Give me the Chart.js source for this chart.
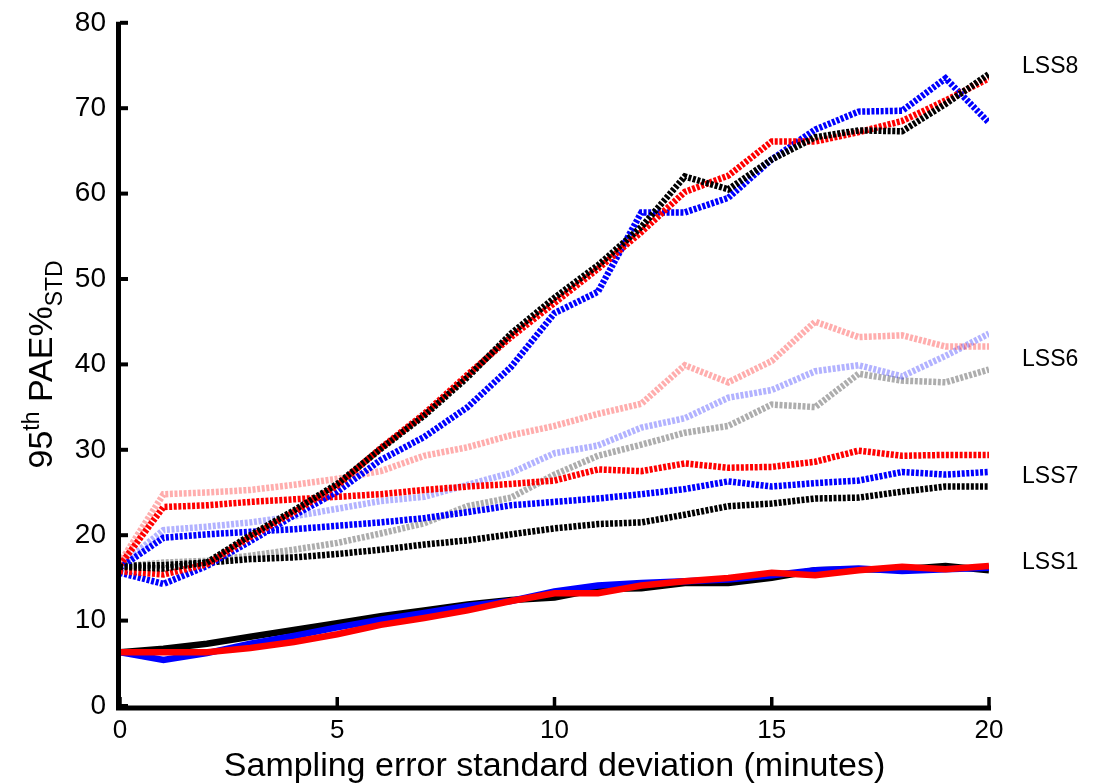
<!DOCTYPE html>
<html>
<head>
<meta charset="utf-8">
<script src="https://cdn.jsdelivr.net/npm/chart.js@4"></script>
<style>
  html, body { margin: 0; padding: 0; background: #fff; }
  canvas { display: block; }
</style>
</head>
<body>
<canvas id="paeChart" width="1093" height="784"></canvas>
<script>
const sdMinutes = [0, 1, 2, 3, 4, 5, 6, 7, 8, 9, 10, 11, 12, 13, 14, 15, 16, 17, 18, 19, 20];

// LSS1, solid lines
const lss1Black = [6.3, 6.7, 7.3, 8.1, 8.9, 9.7, 10.5, 11.2, 11.9, 12.4, 12.7, 13.7, 13.8, 14.4, 14.4, 15.0, 15.9, 16.0, 16.0, 16.4, 15.9];
const lss1Blue = [6.3, 5.4, 6.2, 7.3, 8.2, 9.2, 10.1, 10.9, 11.7, 12.3, 13.4, 14.1, 14.4, 14.6, 14.8, 15.3, 15.9, 16.1, 15.8, 16.0, 16.2];
const lss1Red = [6.3, 6.3, 6.3, 6.8, 7.5, 8.4, 9.5, 10.3, 11.2, 12.3, 13.2, 13.2, 14.1, 14.6, 15.0, 15.6, 15.3, 15.9, 16.3, 16.0, 16.4];

// LSS7, dark dotted
const lss7Black = [16.4, 16.5, 16.8, 17.2, 17.4, 17.8, 18.3, 18.9, 19.4, 20.1, 20.8, 21.3, 21.5, 22.4, 23.4, 23.7, 24.3, 24.4, 25.1, 25.7, 25.7];
const lss7Blue = [16.2, 19.7, 20.1, 20.4, 20.7, 21.1, 21.5, 22.0, 22.7, 23.5, 23.9, 24.3, 24.8, 25.4, 26.3, 25.7, 26.1, 26.4, 27.4, 27.1, 27.4];
const lss7Red = [16.5, 23.3, 23.5, 23.9, 24.2, 24.5, 24.8, 25.3, 25.7, 26.0, 26.4, 27.7, 27.5, 28.4, 27.9, 28.0, 28.6, 29.9, 29.3, 29.4, 29.4];

// LSS6, pale dotted
const lss6Black = [16.3, 16.8, 17.0, 17.6, 18.3, 19.1, 20.2, 21.4, 23.4, 24.4, 27.1, 29.3, 30.6, 32.0, 32.8, 35.3, 35.0, 38.9, 38.1, 37.9, 39.4];
const lss6Blue = [16.4, 20.6, 21.0, 21.5, 22.2, 23.1, 24.0, 24.5, 25.9, 27.3, 29.6, 30.5, 32.6, 33.7, 36.1, 37.0, 39.2, 39.9, 38.6, 41.0, 43.6];
const lss6Red = [16.8, 24.8, 25.0, 25.3, 25.9, 26.6, 27.5, 29.3, 30.3, 31.7, 32.8, 34.2, 35.4, 39.9, 37.9, 40.4, 45.0, 43.2, 43.4, 42.1, 42.1];

// LSS8, dark dotted
const lss8Black = [16.3, 16.1, 16.8, 20.0, 22.9, 26.0, 30.1, 34.0, 38.5, 43.6, 47.8, 51.6, 56.1, 62.0, 60.5, 64.0, 66.6, 67.4, 67.3, 70.5, 74.0];
const lss8Blue = [15.6, 14.3, 16.4, 19.3, 22.3, 25.1, 28.8, 31.5, 35.0, 39.7, 46.0, 48.5, 57.8, 57.8, 59.5, 64.0, 67.5, 69.6, 69.7, 73.5, 68.3];
const lss8Red = [15.8, 15.4, 16.6, 19.8, 22.7, 25.8, 30.2, 34.2, 38.8, 43.2, 47.2, 51.2, 55.5, 60.2, 62.1, 66.1, 66.1, 67.2, 68.5, 70.9, 73.5];

const groupNames = ["LSS8", "LSS6", "LSS7", "LSS1"];
const groupLabelY = [74.9, 40.5, 26.8, 16.8];

const xTicks = [0, 5, 10, 15, 20];
const yTicks = [0, 10, 20, 30, 40, 50, 60, 70, 80];

const FONT = "'Liberation Sans', Arial, sans-serif";

function series(label, values, color, dashed, order) {
  return {
    label: label,
    data: values.map((v, i) => ({ x: sdMinutes[i], y: v })),
    borderColor: color,
    borderWidth: dashed ? 6.5 : 6.5,
    borderDash: dashed ? [3, 1.6] : [],
    borderCapStyle: "butt",
    pointRadius: 0,
    tension: 0,
    fill: false,
    order: order
  };
}

// axes, inward ticks, y title with super/subscript and right-side labels
const decorations = {
  id: "decorations",
  afterDatasetsDraw(chart) {
    const ctx = chart.ctx;
    const area = chart.chartArea;
    const xs = chart.scales.x;
    const ys = chart.scales.y;
    ctx.save();
    ctx.strokeStyle = "#000";
    ctx.lineWidth = 5;
    ctx.lineCap = "butt";
    ctx.beginPath();
    ctx.moveTo(area.left - 1.5, area.top - 1);
    ctx.lineTo(area.left - 1.5, area.bottom + 2);
    ctx.lineTo(area.right + 2, area.bottom + 2);
    ctx.stroke();

    ctx.lineWidth = 4;
    yTicks.forEach(v => {
      const y = ys.getPixelForValue(v);
      ctx.beginPath();
      ctx.moveTo(area.left, y);
      ctx.lineTo(area.left + 8, y);
      ctx.stroke();
    });
    ctx.lineWidth = 3.5;
    xTicks.forEach(v => {
      const x = xs.getPixelForValue(v);
      ctx.beginPath();
      ctx.moveTo(x, area.bottom);
      ctx.lineTo(x, area.bottom - 9);
      ctx.stroke();
    });

    ctx.fillStyle = "#000";
    ctx.textBaseline = "middle";
    ctx.textAlign = "left";
    ctx.font = "23px " + FONT;
    groupNames.forEach((name, i) => {
      ctx.fillText(name, area.right + 33, ys.getPixelForValue(groupLabelY[i]));
    });

    ctx.textAlign = "center";
    ctx.textBaseline = "alphabetic";
    ctx.font = "34px " + FONT;
    ctx.fillText("Sampling error standard deviation (minutes)", (area.left + area.right) / 2, 776);

    // 95th PAE%STD, rotated
    const parts = [
      { t: "95", size: 34, dy: 0 },
      { t: "th", size: 23, dy: -13 },
      { t: " PAE%", size: 34, dy: 0 },
      { t: "STD", size: 23, dy: 10 }
    ];
    let total = 0;
    parts.forEach(p => {
      ctx.font = p.size + "px " + FONT;
      p.w = ctx.measureText(p.t).width;
      total += p.w;
    });
    ctx.translate(52, (area.top + area.bottom) / 2);
    ctx.rotate(-Math.PI / 2);
    ctx.textAlign = "left";
    let cx = -total / 2;
    parts.forEach(p => {
      ctx.font = p.size + "px " + FONT;
      ctx.fillText(p.t, cx, p.dy);
      cx += p.w;
    });
    ctx.restore();
  }
};

new Chart(document.getElementById("paeChart"), {
  type: "line",
  data: {
    datasets: [
      series("LSS6 black", lss6Black, "rgba(0,0,0,0.32)", true, 12),
      series("LSS6 blue", lss6Blue, "rgba(0,0,255,0.3)", true, 11),
      series("LSS6 red", lss6Red, "rgba(255,0,0,0.32)", true, 10),
      series("LSS7 black", lss7Black, "#000000", true, 9),
      series("LSS7 blue", lss7Blue, "#0000ff", true, 8),
      series("LSS7 red", lss7Red, "#ff0000", true, 7),
      series("LSS8 blue", lss8Blue, "#0000ff", true, 6),
      series("LSS8 red", lss8Red, "#ff0000", true, 5),
      series("LSS8 black", lss8Black, "#000000", true, 4),
      series("LSS1 black", lss1Black, "#000000", false, 3),
      series("LSS1 blue", lss1Blue, "#0000ff", false, 2),
      series("LSS1 red", lss1Red, "#ff0000", false, 1)
    ]
  },
  options: {
    responsive: false,
    animation: false,
    devicePixelRatio: 1,
    layout: { padding: { top: 12, right: 104, left: 0, bottom: 0 } },
    plugins: {
      legend: { display: false },
      tooltip: { enabled: false }
    },
    scales: {
      x: {
        type: "linear",
        min: 0,
        max: 20,
        afterFit: s => { s.height = 78; },
        afterBuildTicks: s => { s.ticks = xTicks.map(v => ({ value: v })); },
        grid: { display: false },
        border: { display: false },
        ticks: {
          color: "#000",
          padding: 1,
          maxRotation: 0,
          font: { family: FONT, size: 26 }
        }
      },
      y: {
        min: 0,
        max: 80,
        afterFit: s => { s.width = 120; },
        afterBuildTicks: s => { s.ticks = yTicks.map(v => ({ value: v })); },
        grid: { display: false },
        border: { display: false },
        ticks: {
          color: "#000",
          padding: 6,
          font: { family: FONT, size: 28 }
        }
      }
    }
  },
  plugins: [decorations]
});
</script>
</body>
</html>
